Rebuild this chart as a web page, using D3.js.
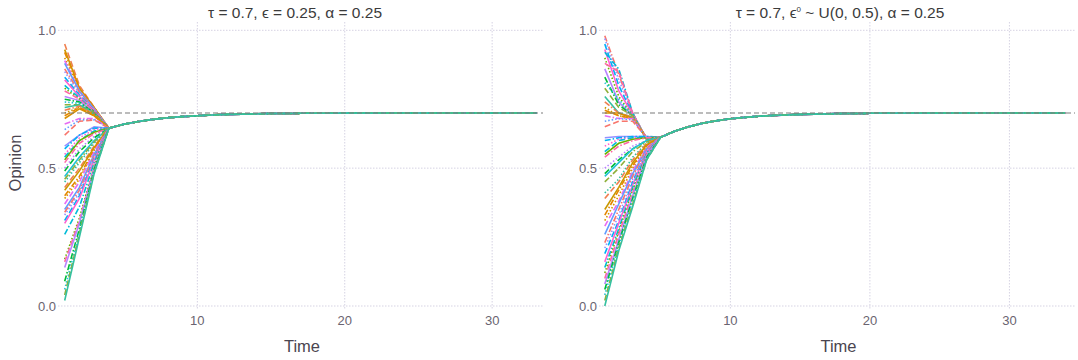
<!DOCTYPE html>
<html>
<head>
<meta charset="utf-8">
<script src="https://cdn.jsdelivr.net/npm/d3@7"></script>
<style>
  body { margin: 0; background: #fff; }
  svg { display: block; font-family: "Liberation Sans", Arial, sans-serif; }
</style>
</head>
<body>
<div id="chart"></div>
<script>
// left panel: agent opinions at t = 1, 2, 3 (then all join the consensus path)
const leftStart = [0.95, 0.93, 0.92, 0.90, 0.89, 0.88, 0.86, 0.85, 0.83, 0.82, 0.80, 0.79, 0.78, 0.76, 0.75, 0.74, 0.73, 0.72, 0.71, 0.70, 0.69, 0.68,
  0.66, 0.64, 0.62, 0.58, 0.57, 0.55, 0.54, 0.53, 0.52, 0.50, 0.49, 0.47, 0.46, 0.45, 0.43, 0.42, 0.40, 0.39, 0.37, 0.35, 0.34, 0.33, 0.31, 0.30,
  0.26, 0.17, 0.16, 0.14, 0.09, 0.06, 0.04, 0.02];
const leftStep2 = [0.80, 0.79, 0.79, 0.785, 0.78, 0.78, 0.775, 0.77, 0.765, 0.76, 0.755, 0.75, 0.75, 0.745, 0.74, 0.735, 0.73, 0.73, 0.725, 0.72, 0.72, 0.715,
  0.68, 0.675, 0.67, 0.62, 0.62, 0.61, 0.60, 0.60, 0.59, 0.57, 0.56, 0.54, 0.53, 0.52, 0.50, 0.49, 0.47, 0.46, 0.45, 0.43, 0.42, 0.41, 0.40, 0.39,
  0.36, 0.32, 0.31, 0.30, 0.28, 0.27, 0.26, 0.25];
const leftStep3 = [0.72, 0.72, 0.72, 0.715, 0.715, 0.715, 0.71, 0.71, 0.71, 0.71, 0.705, 0.705, 0.705, 0.70, 0.70, 0.70, 0.70, 0.695, 0.695, 0.695, 0.69, 0.69,
  0.68, 0.675, 0.675, 0.65, 0.645, 0.64, 0.635, 0.63, 0.625, 0.615, 0.61, 0.60, 0.595, 0.59, 0.58, 0.575, 0.57, 0.565, 0.56, 0.55, 0.545, 0.54, 0.535, 0.53,
  0.52, 0.51, 0.505, 0.50, 0.495, 0.49, 0.485, 0.48];
// shared consensus path, t = 4 .. 33
const leftTail = [0.645, 0.659, 0.669, 0.677, 0.683, 0.687, 0.690, 0.693, 0.695, 0.696, 0.697, 0.698, 0.698, 0.699, 0.699, 0.699, 0.6995, 0.6996,
  0.6997, 0.6998, 0.6998, 0.6999, 0.6999, 0.6999, 0.7, 0.7, 0.7, 0.7, 0.7, 0.7];

// right panel: agent opinions at t = 1 .. 4
const rightStart = [0.98, 0.97, 0.95, 0.93, 0.92, 0.90, 0.88, 0.86, 0.83, 0.81, 0.79, 0.76, 0.74, 0.72, 0.71, 0.70, 0.69, 0.67, 0.65,
  0.61, 0.60, 0.58, 0.56, 0.55, 0.54,
  0.50, 0.48, 0.47, 0.45, 0.41, 0.39, 0.35, 0.33, 0.31, 0.29, 0.26, 0.23, 0.21, 0.19, 0.16, 0.14, 0.12, 0.10, 0.08, 0.06, 0.04, 0.02, 0.00];
const rightStep2 = [0.84, 0.82, 0.80, 0.78, 0.86, 0.76, 0.85, 0.74, 0.73, 0.75, 0.72, 0.70, 0.70, 0.69, 0.69, 0.70, 0.68, 0.68, 0.67,
  0.615, 0.61, 0.605, 0.60, 0.59, 0.58,
  0.54, 0.53, 0.52, 0.50, 0.46, 0.45, 0.43, 0.42, 0.40, 0.38, 0.37, 0.35, 0.33, 0.31, 0.30, 0.28, 0.27, 0.26, 0.24, 0.23, 0.22, 0.21, 0.20];
const rightStep3 = [0.70, 0.70, 0.695, 0.695, 0.70, 0.69, 0.70, 0.69, 0.69, 0.69, 0.69, 0.685, 0.685, 0.68, 0.68, 0.68, 0.68, 0.675, 0.67,
  0.615, 0.615, 0.61, 0.61, 0.605, 0.60,
  0.58, 0.57, 0.57, 0.56, 0.54, 0.53, 0.52, 0.51, 0.50, 0.49, 0.48, 0.47, 0.46, 0.45, 0.44, 0.43, 0.42, 0.41, 0.40, 0.39, 0.38, 0.37, 0.36];
const rightStep4 = [0.605, 0.605, 0.605, 0.605, 0.605, 0.605, 0.605, 0.605, 0.605, 0.605, 0.605, 0.61, 0.61, 0.61, 0.61, 0.61, 0.61, 0.61, 0.61,
  0.615, 0.615, 0.61, 0.61, 0.61, 0.61,
  0.60, 0.60, 0.60, 0.595, 0.59, 0.59, 0.585, 0.58, 0.58, 0.575, 0.57, 0.57, 0.565, 0.56, 0.56, 0.555, 0.55, 0.55, 0.545, 0.54, 0.535, 0.53, 0.53];
// shared consensus path, t = 5 .. 34
const rightTail = [0.612, 0.634, 0.650, 0.663, 0.672, 0.679, 0.684, 0.688, 0.691, 0.693, 0.695, 0.696, 0.697, 0.698, 0.698, 0.699, 0.699, 0.699,
  0.6995, 0.6996, 0.6997, 0.6998, 0.6998, 0.6999, 0.6999, 0.6999, 0.7, 0.7, 0.7, 0.7];

const truth = 0.7;
const xTicks = [10, 20, 30];
const yTicks = [0, 0.5, 1];

// teal / olive / cyan land on the last-drawn series, as in the original
const palette = ["#35c0a0", "#f8766d", "#b983ff", "#e58700", "#fd61d1", "#8fb03a", "#619cff", "#ff67a4",
  "#c99800", "#00b0f6", "#22c3d6", "#e76bf3", "#6bb100", "#f07f4f", "#9590ff", "#00ba38", "#d89000", "#00bcd8"];
const dashes = [null, "6,3", "1.5,2", "6,2,1.5,2"];

const W = 1078, H = 360;
const svg = d3.select("#chart").append("svg").attr("width", W).attr("height", H);

function panel(opts) {
  const x = d3.scaleLinear().domain(opts.xDomain).range([opts.left, opts.right]);
  const y = d3.scaleLinear().domain([0, 1]).range([306, 30.3]);
  const g = svg.append("g");

  // grid
  g.selectAll(".gx").data(xTicks).join("line")
    .attr("x1", d => x(d)).attr("x2", d => x(d)).attr("y1", 22).attr("y2", 310)
    .attr("stroke", "#d6d3e3").attr("stroke-width", 1).attr("stroke-dasharray", "1.5,1.5");
  g.selectAll(".gy").data(yTicks).join("line")
    .attr("x1", opts.left - 3).attr("x2", opts.right).attr("y1", d => y(d)).attr("y2", d => y(d))
    .attr("stroke", "#d6d3e3").attr("stroke-width", 1).attr("stroke-dasharray", "1.5,1.5");

  // tick labels
  g.selectAll(".ty").data(yTicks).join("text")
    .attr("x", opts.left - 5).attr("y", d => y(d) + 4.5)
    .attr("text-anchor", "end").attr("font-size", 13).attr("fill", "#6a6470")
    .text(d => d3.format(".1f")(d));
  g.selectAll(".tx").data(xTicks).join("text")
    .attr("x", d => x(d)).attr("y", 325)
    .attr("text-anchor", "middle").attr("font-size", 13).attr("fill", "#6a6470")
    .text(d => d);

  // agents
  const line = d3.line().x(d => x(d[0])).y(d => y(d[1]));
  const n = opts.series.length;
  opts.series.forEach((vals, i) => {
    const r = n - 1 - i;
    const pts = vals.map((v, k) => [k + 1, v]);
    g.append("path").datum(pts)
      .attr("d", line)
      .attr("fill", "none")
      .attr("stroke", palette[(r * 5) % palette.length])
      .attr("stroke-width", 1.6)
      .attr("stroke-dasharray", dashes[r % dashes.length]);
  });

  // truth line
  g.append("line")
    .attr("x1", opts.left).attr("x2", opts.right).attr("y1", y(truth)).attr("y2", y(truth))
    .attr("stroke", "#7a7a7a").attr("stroke-width", 1.2).attr("stroke-dasharray", "5,3");

  // title and axis label
  svg.append("text").attr("x", opts.titleX).attr("y", 18)
    .attr("text-anchor", "middle").attr("font-size", 15.5).attr("fill", "#3b3b3b")
    .html(opts.title);
  svg.append("text").attr("x", (opts.left + opts.right) / 2).attr("y", 352)
    .attr("text-anchor", "middle").attr("font-size", 16.5).attr("fill", "#4a4550")
    .text("Time");
}

const leftSeries = leftStart.map((v, i) => [v, leftStep2[i], leftStep3[i], ...leftTail]);
const rightSeries = rightStart.map((v, i) => [v, rightStep2[i], rightStep3[i], rightStep4[i], ...rightTail]);

panel({
  left: 61, right: 543, xDomain: [0.75, 33.45], series: leftSeries, titleX: 295,
  title: "τ = 0.7, ϵ = 0.25, α = 0.25"
});
panel({
  left: 602, right: 1075, xDomain: [0.8, 34.7], series: rightSeries, titleX: 840,
  title: "τ = 0.7, ϵ<tspan dy='-6' font-size='8'>0</tspan><tspan dy='6'> ~ U(0, 0.5), α = 0.25</tspan>"
});

svg.append("text")
  .attr("transform", "translate(21,163) rotate(-90)")
  .attr("text-anchor", "middle").attr("font-size", 16.5).attr("fill", "#4a4550")
  .text("Opinion");
</script>
</body>
</html>
